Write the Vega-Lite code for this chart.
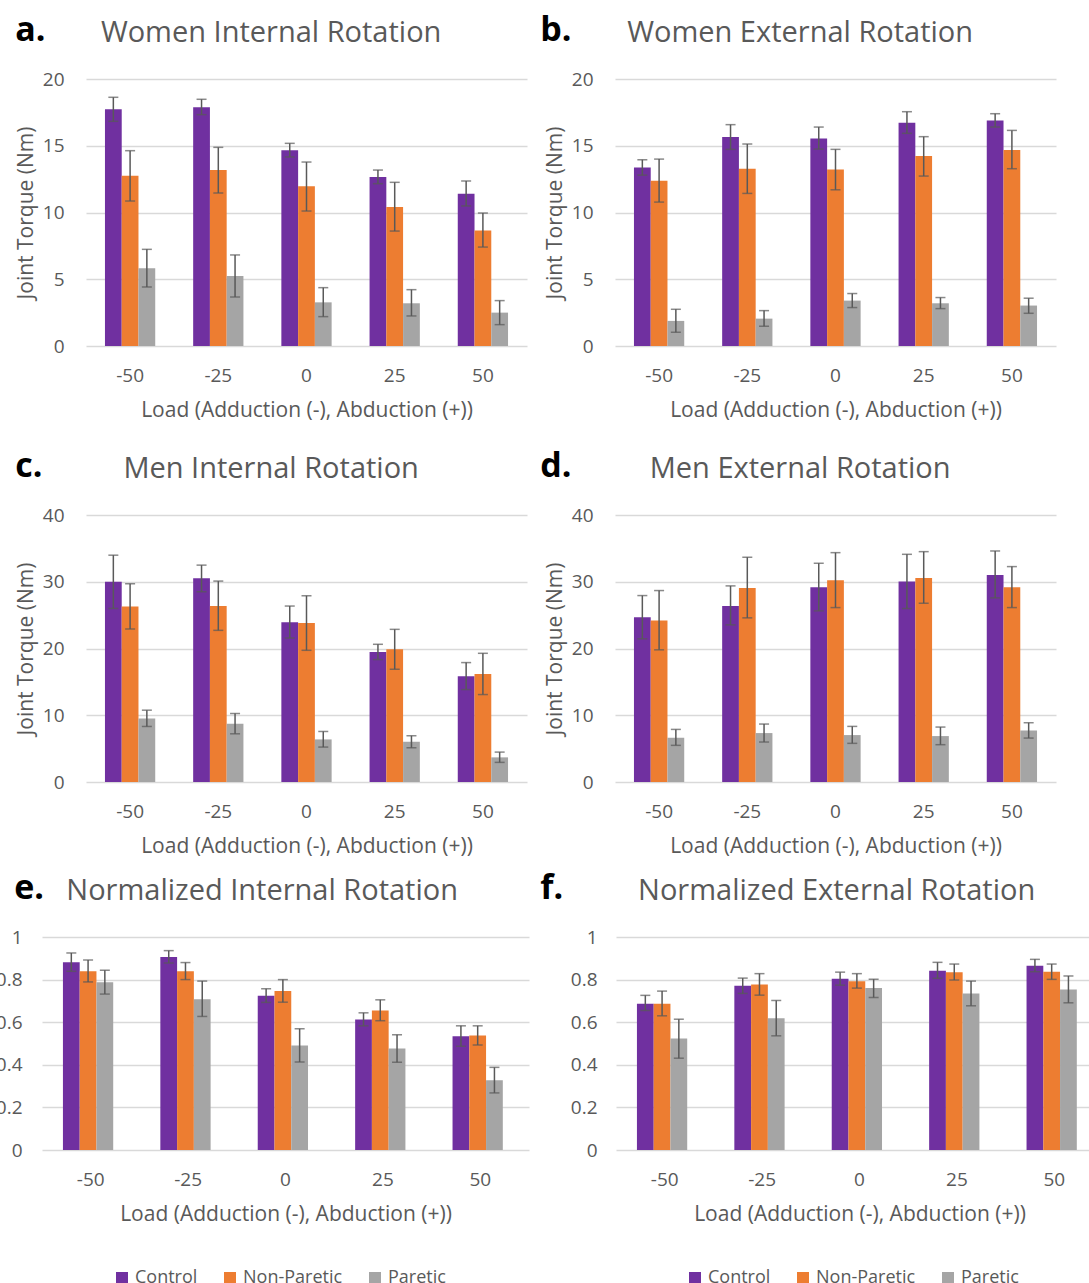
{
"$schema": "https://vega.github.io/schema/vega-lite/v6.json",
"background": "white",
"padding": {"left": -5, "top": 14, "right": 0, "bottom": 0},
"config": {
 "font": "Open Sans",
 "view": {"stroke": null},
 "title": {"fontSize": 29, "fontWeight": "normal", "color": "#595959", "anchor": "middle", "frame": "bounds", "offset": 22},
 "axis": {"labelColor": "#595959", "titleColor": "#595959", "labelFontSize": 19, "titleFontSize": 21, "titleFontWeight": "normal", "ticks": false, "domain": false, "gridColor": "#D9D9D9", "gridWidth": 1.5},
 "axisX": {"labelPadding": 20, "titlePadding": 14, "grid": false, "labelAngle": 0},
 "axisY": {"labelPadding": 22, "titlePadding": 6},
 "tick": {"color": "#595959", "thickness": 1.5, "size": 10},
 "rule": {"color": "#595959", "strokeWidth": 1.5}
},
"datasets": {
 "d": [
  {"p":"a","load":"-50","group":"Control","v":17.73,"lo":16.83,"hi":18.63},
  {"p":"a","load":"-50","group":"Non-Paretic","v":12.76,"lo":10.86,"hi":14.63},
  {"p":"a","load":"-50","group":"Paretic","v":5.82,"lo":4.42,"hi":7.24},
  {"p":"a","load":"-25","group":"Control","v":17.88,"lo":17.33,"hi":18.48},
  {"p":"a","load":"-25","group":"Non-Paretic","v":13.18,"lo":11.46,"hi":14.88},
  {"p":"a","load":"-25","group":"Paretic","v":5.24,"lo":3.67,"hi":6.82},
  {"p":"a","load":"0","group":"Control","v":14.66,"lo":14.16,"hi":15.18},
  {"p":"a","load":"0","group":"Non-Paretic","v":11.96,"lo":10.11,"hi":13.78},
  {"p":"a","load":"0","group":"Paretic","v":3.27,"lo":2.2,"hi":4.37},
  {"p":"a","load":"25","group":"Control","v":12.66,"lo":12.16,"hi":13.18},
  {"p":"a","load":"25","group":"Non-Paretic","v":10.41,"lo":8.61,"hi":12.26},
  {"p":"a","load":"25","group":"Paretic","v":3.2,"lo":2.25,"hi":4.22},
  {"p":"a","load":"50","group":"Control","v":11.41,"lo":10.49,"hi":12.36},
  {"p":"a","load":"50","group":"Non-Paretic","v":8.66,"lo":7.41,"hi":9.96},
  {"p":"a","load":"50","group":"Paretic","v":2.5,"lo":1.6,"hi":3.4},

  {"p":"b","load":"-50","group":"Control","v":13.38,"lo":12.8,"hi":13.95},
  {"p":"b","load":"-50","group":"Non-Paretic","v":12.38,"lo":10.78,"hi":14.0},
  {"p":"b","load":"-50","group":"Paretic","v":1.88,"lo":1.03,"hi":2.75},
  {"p":"b","load":"-25","group":"Control","v":15.65,"lo":14.73,"hi":16.58},
  {"p":"b","load":"-25","group":"Non-Paretic","v":13.28,"lo":11.43,"hi":15.13},
  {"p":"b","load":"-25","group":"Paretic","v":2.05,"lo":1.48,"hi":2.65},
  {"p":"b","load":"0","group":"Control","v":15.55,"lo":14.75,"hi":16.4},
  {"p":"b","load":"0","group":"Non-Paretic","v":13.23,"lo":11.7,"hi":14.73},
  {"p":"b","load":"0","group":"Paretic","v":3.4,"lo":2.88,"hi":3.93},
  {"p":"b","load":"25","group":"Control","v":16.73,"lo":15.93,"hi":17.55},
  {"p":"b","load":"25","group":"Non-Paretic","v":14.23,"lo":12.73,"hi":15.68},
  {"p":"b","load":"25","group":"Paretic","v":3.2,"lo":2.8,"hi":3.63},
  {"p":"b","load":"50","group":"Control","v":16.9,"lo":16.4,"hi":17.4},
  {"p":"b","load":"50","group":"Non-Paretic","v":14.68,"lo":13.28,"hi":16.15},
  {"p":"b","load":"50","group":"Paretic","v":3.03,"lo":2.45,"hi":3.58},

  {"p":"c","load":"-50","group":"Control","v":30.0,"lo":26.0,"hi":33.98},
  {"p":"c","load":"-50","group":"Non-Paretic","v":26.31,"lo":22.92,"hi":29.7},
  {"p":"c","load":"-50","group":"Paretic","v":9.52,"lo":8.32,"hi":10.76},
  {"p":"c","load":"-25","group":"Control","v":30.54,"lo":28.5,"hi":32.49},
  {"p":"c","load":"-25","group":"Non-Paretic","v":26.36,"lo":22.72,"hi":30.1},
  {"p":"c","load":"-25","group":"Paretic","v":8.72,"lo":7.22,"hi":10.26},
  {"p":"c","load":"0","group":"Control","v":23.92,"lo":21.57,"hi":26.36},
  {"p":"c","load":"0","group":"Non-Paretic","v":23.82,"lo":19.73,"hi":27.9},
  {"p":"c","load":"0","group":"Paretic","v":6.38,"lo":5.23,"hi":7.57},
  {"p":"c","load":"25","group":"Control","v":19.48,"lo":18.34,"hi":20.63},
  {"p":"c","load":"25","group":"Non-Paretic","v":19.88,"lo":16.89,"hi":22.87},
  {"p":"c","load":"25","group":"Paretic","v":6.03,"lo":5.13,"hi":6.93},
  {"p":"c","load":"50","group":"Control","v":15.84,"lo":13.85,"hi":17.89},
  {"p":"c","load":"50","group":"Non-Paretic","v":16.19,"lo":13.1,"hi":19.28},
  {"p":"c","load":"50","group":"Paretic","v":3.69,"lo":2.94,"hi":4.48},

  {"p":"d","load":"-50","group":"Control","v":24.69,"lo":21.45,"hi":27.93},
  {"p":"d","load":"-50","group":"Non-Paretic","v":24.19,"lo":19.8,"hi":28.68},
  {"p":"d","load":"-50","group":"Paretic","v":6.63,"lo":5.49,"hi":7.88},
  {"p":"d","load":"-25","group":"Control","v":26.38,"lo":23.54,"hi":29.38},
  {"p":"d","load":"-25","group":"Non-Paretic","v":29.08,"lo":24.59,"hi":33.67},
  {"p":"d","load":"-25","group":"Paretic","v":7.33,"lo":5.99,"hi":8.68},
  {"p":"d","load":"0","group":"Control","v":29.18,"lo":25.64,"hi":32.77},
  {"p":"d","load":"0","group":"Non-Paretic","v":30.22,"lo":26.13,"hi":34.36},
  {"p":"d","load":"0","group":"Paretic","v":7.03,"lo":5.79,"hi":8.33},
  {"p":"d","load":"25","group":"Control","v":30.02,"lo":25.99,"hi":34.11},
  {"p":"d","load":"25","group":"Non-Paretic","v":30.57,"lo":26.78,"hi":34.51},
  {"p":"d","load":"25","group":"Paretic","v":6.88,"lo":5.59,"hi":8.23},
  {"p":"d","load":"50","group":"Control","v":31.02,"lo":27.58,"hi":34.61},
  {"p":"d","load":"50","group":"Non-Paretic","v":29.18,"lo":26.13,"hi":32.27},
  {"p":"d","load":"50","group":"Paretic","v":7.73,"lo":6.58,"hi":8.88},

  {"p":"e","load":"-50","group":"Control","v":0.881,"lo":0.839,"hi":0.925},
  {"p":"e","load":"-50","group":"Non-Paretic","v":0.839,"lo":0.789,"hi":0.892},
  {"p":"e","load":"-50","group":"Paretic","v":0.788,"lo":0.732,"hi":0.844},
  {"p":"e","load":"-25","group":"Control","v":0.906,"lo":0.878,"hi":0.936},
  {"p":"e","load":"-25","group":"Non-Paretic","v":0.839,"lo":0.8,"hi":0.88},
  {"p":"e","load":"-25","group":"Paretic","v":0.708,"lo":0.627,"hi":0.793},
  {"p":"e","load":"0","group":"Control","v":0.724,"lo":0.693,"hi":0.757},
  {"p":"e","load":"0","group":"Non-Paretic","v":0.747,"lo":0.694,"hi":0.8},
  {"p":"e","load":"0","group":"Paretic","v":0.491,"lo":0.413,"hi":0.569},
  {"p":"e","load":"25","group":"Control","v":0.613,"lo":0.583,"hi":0.644},
  {"p":"e","load":"25","group":"Non-Paretic","v":0.655,"lo":0.607,"hi":0.705},
  {"p":"e","load":"25","group":"Paretic","v":0.477,"lo":0.412,"hi":0.541},
  {"p":"e","load":"50","group":"Control","v":0.534,"lo":0.487,"hi":0.583},
  {"p":"e","load":"50","group":"Non-Paretic","v":0.538,"lo":0.493,"hi":0.583},
  {"p":"e","load":"50","group":"Paretic","v":0.328,"lo":0.268,"hi":0.388},

  {"p":"f","load":"-50","group":"Control","v":0.687,"lo":0.655,"hi":0.726},
  {"p":"f","load":"-50","group":"Non-Paretic","v":0.687,"lo":0.63,"hi":0.746},
  {"p":"f","load":"-50","group":"Paretic","v":0.524,"lo":0.431,"hi":0.614},
  {"p":"f","load":"-25","group":"Control","v":0.771,"lo":0.735,"hi":0.807},
  {"p":"f","load":"-25","group":"Non-Paretic","v":0.777,"lo":0.727,"hi":0.828},
  {"p":"f","load":"-25","group":"Paretic","v":0.618,"lo":0.536,"hi":0.702},
  {"p":"f","load":"0","group":"Control","v":0.804,"lo":0.774,"hi":0.835},
  {"p":"f","load":"0","group":"Non-Paretic","v":0.792,"lo":0.76,"hi":0.828},
  {"p":"f","load":"0","group":"Paretic","v":0.76,"lo":0.716,"hi":0.802},
  {"p":"f","load":"25","group":"Control","v":0.842,"lo":0.806,"hi":0.881},
  {"p":"f","load":"25","group":"Non-Paretic","v":0.834,"lo":0.798,"hi":0.873},
  {"p":"f","load":"25","group":"Paretic","v":0.735,"lo":0.677,"hi":0.793},
  {"p":"f","load":"50","group":"Control","v":0.865,"lo":0.837,"hi":0.895},
  {"p":"f","load":"50","group":"Non-Paretic","v":0.837,"lo":0.801,"hi":0.873},
  {"p":"f","load":"50","group":"Paretic","v":0.754,"lo":0.691,"hi":0.817}
 ]
},
"columns": 1,
"spacing": 16,
"resolve": {"scale": {"color": "independent", "x": "independent", "y": "independent"}},
"concat": [
 {"columns": 1, "spacing": 30,
  "resolve": {"scale": {"color": "independent", "x": "independent", "y": "independent"}},
  "concat": [
 {"hconcat": [
  {"width": 1, "height": 1, "data": {"values": []}, "mark": "point", "encoding": {}},
  {"hconcat": [
  {"title": {"text": "a.", "anchor": "start", "fontSize": 34, "fontWeight": "bold", "color": "black", "offset": 0, "dy": 29},
   "resolve": {"scale": {"color": "independent"}},
   "vconcat": [{
    "width": 441, "height": 267,
    "title": "Women Internal Rotation",
    "data": {"name": "d"},
    "transform": [{"filter": "datum.p == 'a'"}],
    "encoding": {
     "x": {"field": "load", "type": "nominal", "sort": ["-50","-25","0","25","50"], "scale": {"paddingInner": 0.43, "paddingOuter": 0.215}, "title": "Load (Adduction (-), Abduction (+))"},
     "xOffset": {"field": "group", "type": "nominal", "sort": ["Control","Non-Paretic","Paretic"]}
    },
    "layer": [
     {"mark": "bar", "encoding": {"y": {"field": "v", "type": "quantitative", "title": "Joint Torque (Nm)", "scale": {"domain": [0, 20]}, "axis": {"values": [0,5,10,15,20]}},
       "color": {"field": "group", "type": "nominal", "sort": ["Control","Non-Paretic","Paretic"], "scale": {"domain": ["Control","Non-Paretic","Paretic"], "range": ["#7030A0","#ED7D31","#A5A5A5"]}, "legend": null}}},
     {"mark": "rule", "encoding": {"y": {"field": "lo", "type": "quantitative", "title": "Joint Torque (Nm)"}, "y2": {"field": "hi"}}},
     {"mark": "tick", "encoding": {"y": {"field": "lo", "type": "quantitative", "title": "Joint Torque (Nm)"}}},
     {"mark": "tick", "encoding": {"y": {"field": "hi", "type": "quantitative", "title": "Joint Torque (Nm)"}}}
    ]
   }]
  },
  {"title": {"text": "b.", "anchor": "start", "fontSize": 34, "fontWeight": "bold", "color": "black", "offset": 0, "dy": 29, "dx": -4},
   "resolve": {"scale": {"color": "independent"}},
   "vconcat": [{
    "width": 441, "height": 267,
    "title": "Women External Rotation",
    "data": {"name": "d"},
    "transform": [{"filter": "datum.p == 'b'"}],
    "encoding": {
     "x": {"field": "load", "type": "nominal", "sort": ["-50","-25","0","25","50"], "scale": {"paddingInner": 0.43, "paddingOuter": 0.215}, "title": "Load (Adduction (-), Abduction (+))"},
     "xOffset": {"field": "group", "type": "nominal", "sort": ["Control","Non-Paretic","Paretic"]}
    },
    "layer": [
     {"mark": "bar", "encoding": {"y": {"field": "v", "type": "quantitative", "title": "Joint Torque (Nm)", "scale": {"domain": [0, 20]}, "axis": {"values": [0,5,10,15,20]}},
       "color": {"field": "group", "type": "nominal", "sort": ["Control","Non-Paretic","Paretic"], "scale": {"domain": ["Control","Non-Paretic","Paretic"], "range": ["#7030A0","#ED7D31","#A5A5A5"]}, "legend": null}}},
     {"mark": "rule", "encoding": {"y": {"field": "lo", "type": "quantitative", "title": "Joint Torque (Nm)"}, "y2": {"field": "hi"}}},
     {"mark": "tick", "encoding": {"y": {"field": "lo", "type": "quantitative", "title": "Joint Torque (Nm)"}}},
     {"mark": "tick", "encoding": {"y": {"field": "hi", "type": "quantitative", "title": "Joint Torque (Nm)"}}}
    ]
   }]
  }
  ], "spacing": 13, "resolve": {"scale": {"color": "independent"}}}
 ], "spacing": -28, "resolve": {"scale": {"color": "independent"}}},
 {"hconcat": [
  {"width": 1, "height": 1, "data": {"values": []}, "mark": "point", "encoding": {}},
  {"hconcat": [
  {"title": {"text": "c.", "anchor": "start", "fontSize": 34, "fontWeight": "bold", "color": "black", "offset": 0, "dy": 29},
   "resolve": {"scale": {"color": "independent"}},
   "vconcat": [{
    "width": 441, "height": 267,
    "title": "Men Internal Rotation",
    "data": {"name": "d"},
    "transform": [{"filter": "datum.p == 'c'"}],
    "encoding": {
     "x": {"field": "load", "type": "nominal", "sort": ["-50","-25","0","25","50"], "scale": {"paddingInner": 0.43, "paddingOuter": 0.215}, "title": "Load (Adduction (-), Abduction (+))"},
     "xOffset": {"field": "group", "type": "nominal", "sort": ["Control","Non-Paretic","Paretic"]}
    },
    "layer": [
     {"mark": "bar", "encoding": {"y": {"field": "v", "type": "quantitative", "title": "Joint Torque (Nm)", "scale": {"domain": [0, 40]}, "axis": {"values": [0,5,10,15,20,25,30,35,40]}},
       "color": {"field": "group", "type": "nominal", "sort": ["Control","Non-Paretic","Paretic"], "scale": {"domain": ["Control","Non-Paretic","Paretic"], "range": ["#7030A0","#ED7D31","#A5A5A5"]}, "legend": null}}},
     {"mark": "rule", "encoding": {"y": {"field": "lo", "type": "quantitative", "title": "Joint Torque (Nm)"}, "y2": {"field": "hi"}}},
     {"mark": "tick", "encoding": {"y": {"field": "lo", "type": "quantitative", "title": "Joint Torque (Nm)"}}},
     {"mark": "tick", "encoding": {"y": {"field": "hi", "type": "quantitative", "title": "Joint Torque (Nm)"}}}
    ]
   }]
  },
  {"title": {"text": "d.", "anchor": "start", "fontSize": 34, "fontWeight": "bold", "color": "black", "offset": 0, "dy": 29, "dx": -4},
   "resolve": {"scale": {"color": "independent"}},
   "vconcat": [{
    "width": 441, "height": 267,
    "title": "Men External Rotation",
    "data": {"name": "d"},
    "transform": [{"filter": "datum.p == 'd'"}],
    "encoding": {
     "x": {"field": "load", "type": "nominal", "sort": ["-50","-25","0","25","50"], "scale": {"paddingInner": 0.43, "paddingOuter": 0.215}, "title": "Load (Adduction (-), Abduction (+))"},
     "xOffset": {"field": "group", "type": "nominal", "sort": ["Control","Non-Paretic","Paretic"]}
    },
    "layer": [
     {"mark": "bar", "encoding": {"y": {"field": "v", "type": "quantitative", "title": "Joint Torque (Nm)", "scale": {"domain": [0, 40]}, "axis": {"values": [0,5,10,15,20,25,30,35,40]}},
       "color": {"field": "group", "type": "nominal", "sort": ["Control","Non-Paretic","Paretic"], "scale": {"domain": ["Control","Non-Paretic","Paretic"], "range": ["#7030A0","#ED7D31","#A5A5A5"]}, "legend": null}}},
     {"mark": "rule", "encoding": {"y": {"field": "lo", "type": "quantitative", "title": "Joint Torque (Nm)"}, "y2": {"field": "hi"}}},
     {"mark": "tick", "encoding": {"y": {"field": "lo", "type": "quantitative", "title": "Joint Torque (Nm)"}}},
     {"mark": "tick", "encoding": {"y": {"field": "hi", "type": "quantitative", "title": "Joint Torque (Nm)"}}}
    ]
   }]
  }
  ], "spacing": 13, "resolve": {"scale": {"color": "independent"}}}
 ], "spacing": -28, "resolve": {"scale": {"color": "independent"}}}
 ]},
 {"hconcat": [
  {"title": {"text": "e.", "anchor": "start", "fontSize": 34, "fontWeight": "bold", "color": "black", "offset": 0, "dy": 29, "dx": 19},
   "resolve": {"scale": {"color": "independent"}},
   "vconcat": [{
    "width": 487, "height": 213,
    "title": "Normalized Internal Rotation",
    "data": {"name": "d"},
    "transform": [{"filter": "datum.p == 'e'"}],
    "encoding": {
     "x": {"field": "load", "type": "nominal", "sort": ["-50","-25","0","25","50"], "scale": {"paddingInner": 0.43, "paddingOuter": 0.215}, "title": "Load (Adduction (-), Abduction (+))"},
     "xOffset": {"field": "group", "type": "nominal", "sort": ["Control","Non-Paretic","Paretic"]}
    },
    "layer": [
     {"mark": "bar", "encoding": {"y": {"field": "v", "type": "quantitative", "title": null, "scale": {"domain": [0, 1]}, "axis": {"values": [0,0.2,0.4,0.6,0.8,1], "format": "~g", "labelPadding": 20}},
       "color": {"field": "group", "type": "nominal", "sort": ["Control","Non-Paretic","Paretic"], "scale": {"domain": ["Control","Non-Paretic","Paretic"], "range": ["#7030A0","#ED7D31","#A5A5A5"]},
        "legend": {"orient": "none", "legendX": 71, "legendY": 332, "direction": "horizontal", "title": null, "symbolType": "square", "symbolSize": 144, "symbolStrokeWidth": 0, "labelFontSize": 18, "labelColor": "#595959", "columnPadding": 23, "labelOffset": 4}}}},
     {"mark": "rule", "encoding": {"y": {"field": "lo", "type": "quantitative", "title": null}, "y2": {"field": "hi"}}},
     {"mark": "tick", "encoding": {"y": {"field": "lo", "type": "quantitative", "title": null}}},
     {"mark": "tick", "encoding": {"y": {"field": "hi", "type": "quantitative", "title": null}}}
    ]
   }]
  },
  {"title": {"text": "f.", "anchor": "start", "fontSize": 34, "fontWeight": "bold", "color": "black", "offset": 0, "dy": 29, "dx": -30},
   "resolve": {"scale": {"color": "independent"}},
   "vconcat": [{
    "width": 487, "height": 213,
    "title": "Normalized External Rotation",
    "data": {"name": "d"},
    "transform": [{"filter": "datum.p == 'f'"}],
    "encoding": {
     "x": {"field": "load", "type": "nominal", "sort": ["-50","-25","0","25","50"], "scale": {"paddingInner": 0.43, "paddingOuter": 0.215}, "title": "Load (Adduction (-), Abduction (+))"},
     "xOffset": {"field": "group", "type": "nominal", "sort": ["Control","Non-Paretic","Paretic"]}
    },
    "layer": [
     {"mark": "bar", "encoding": {"y": {"field": "v", "type": "quantitative", "title": null, "scale": {"domain": [0, 1]}, "axis": {"values": [0,0.2,0.4,0.6,0.8,1], "format": "~g", "labelPadding": 19}},
       "color": {"field": "group", "type": "nominal", "sort": ["Control","Non-Paretic","Paretic"], "scale": {"domain": ["Control","Non-Paretic","Paretic"], "range": ["#7030A0","#ED7D31","#A5A5A5"]},
        "legend": {"orient": "none", "legendX": 70, "legendY": 332, "direction": "horizontal", "title": null, "symbolType": "square", "symbolSize": 144, "symbolStrokeWidth": 0, "labelFontSize": 18, "labelColor": "#595959", "columnPadding": 23, "labelOffset": 4}}}},
     {"mark": "rule", "encoding": {"y": {"field": "lo", "type": "quantitative", "title": null}, "y2": {"field": "hi"}}},
     {"mark": "tick", "encoding": {"y": {"field": "lo", "type": "quantitative", "title": null}}},
     {"mark": "tick", "encoding": {"y": {"field": "hi", "type": "quantitative", "title": null}}}
    ]
   }]
  }
 ], "spacing": 11, "resolve": {"scale": {"color": "independent"}}}
]
}
